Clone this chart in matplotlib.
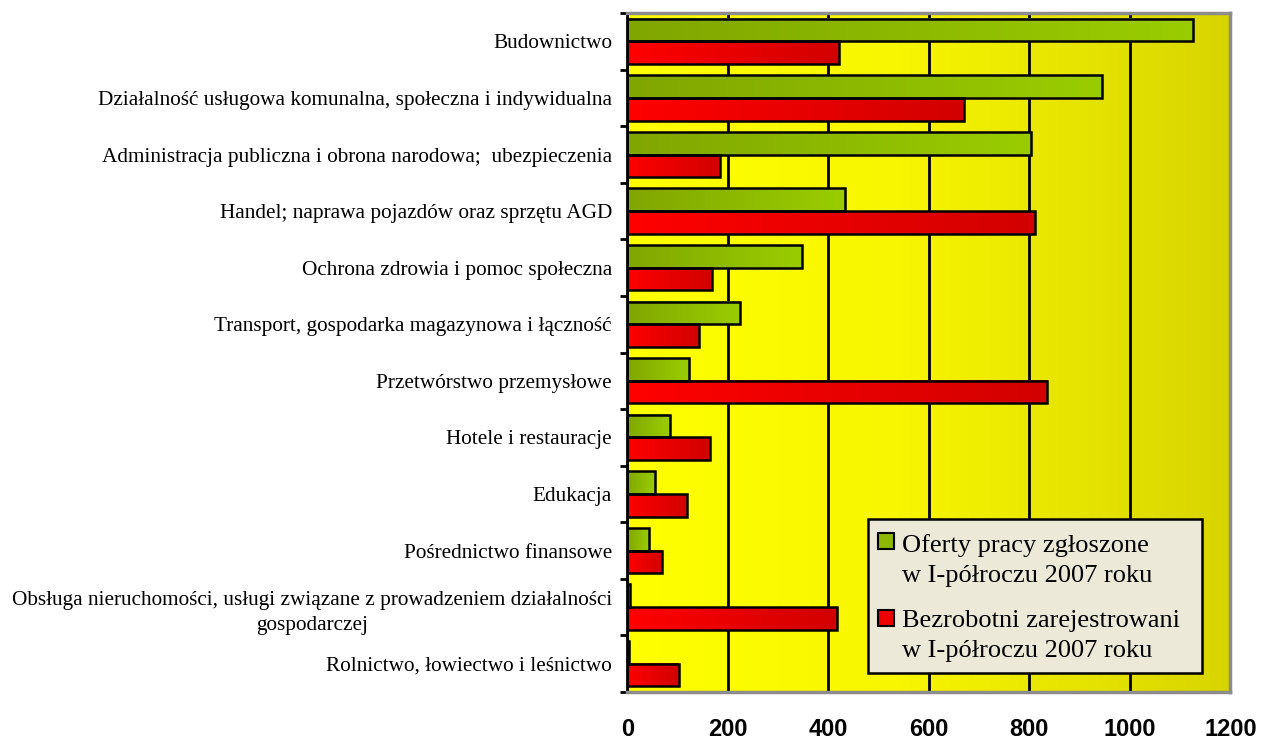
import matplotlib
matplotlib.use("Agg")
from matplotlib import pyplot as plt
from matplotlib.colors import LinearSegmentedColormap
from matplotlib.patches import Rectangle
import numpy as np

categories = [
    "Budownictwo",
    "Działalność usługowa komunalna, społeczna i indywidualna",
    "Administracja publiczna i obrona narodowa;  ubezpieczenia",
    "Handel; naprawa pojazdów oraz sprzętu AGD",
    "Ochrona zdrowia i pomoc społeczna",
    "Transport, gospodarka magazynowa i łączność",
    "Przetwórstwo przemysłowe",
    "Hotele i restauracje",
    "Edukacja",
    "Pośrednictwo finansowe",
    "Obsługa nieruchomości, usługi związane z prowadzeniem działalności\ngospodarczej",
    "Rolnictwo, łowiectwo i leśnictwo",
]
oferty = [1125, 944, 804, 433, 347, 224, 122, 85, 55, 44, 6, 3]
bezrobotni = [421, 669, 185, 811, 169, 143, 836, 164, 119, 70, 418, 103]
xticks = [0, 200, 400, 600, 800, 1000, 1200]
legend_labels = [["Oferty pracy zgłoszone", "w I-półroczu 2007 roku"],
                 ["Bezrobotni zarejestrowani", "w I-półroczu 2007 roku"]]

serif = "Liberation Serif"
sans = "Liberation Sans"

fig = plt.figure(figsize=(12.62, 7.42), dpi=100)
ax = fig.add_axes([0.497, 0.0674, 0.478, 0.915])

# background gradient
bg = LinearSegmentedColormap.from_list(
    "bg", [(0, "#ffff00"), (0.45, "#f8f600"), (0.75, "#e6e400"), (1, "#d8d400")])
ax.imshow(np.linspace(0, 1, 256).reshape(1, -1), cmap=bg, aspect="auto",
          extent=[0, 1, 0, 1], transform=ax.transAxes, zorder=-2)

green = LinearSegmentedColormap.from_list("g", ["#80a600", "#9acd00"])
red = LinearSegmentedColormap.from_list("r", ["#ff0000", "#d20000"])
grad = np.linspace(0, 1, 256).reshape(1, -1)

y = np.arange(len(categories))
h = 0.4
for vals, off, cmap in [(oferty, -h / 2, green), (bezrobotni, h / 2, red)]:
    bars = ax.barh(y + off, vals, height=h, facecolor="none",
                   edgecolor="black", linewidth=1.8, zorder=3)
    for b in bars:
        x0, y0 = b.get_x(), b.get_y()
        w, hh = b.get_width(), b.get_height()
        ax.imshow(grad, cmap=cmap, aspect="auto",
                  extent=[x0, x0 + w, y0 + hh, y0], zorder=2)

ax.set_xlim(0, 1200)
ax.set_ylim(len(categories) - 0.5, -0.5)

ax.set_axisbelow(True)
ax.xaxis.grid(True, color="black", linewidth=2)
ax.set_xticks(xticks)
ax.set_xticklabels([str(t) for t in xticks], fontfamily=sans,
                   fontweight="bold", fontsize=17)
ax.tick_params(axis="x", length=0, pad=19)

ax.set_yticks(y)
ax.set_yticklabels(categories, fontfamily=serif, fontsize=15.3,
                   multialignment="center", linespacing=1.45)
ax.tick_params(axis="y", length=0, pad=11)
ax.set_yticks(np.arange(len(categories) + 1) - 0.5, minor=True)
ax.tick_params(axis="y", which="minor", length=5, width=2, direction="out")

ax.spines["left"].set_color("black")
ax.spines["left"].set_linewidth(2)
for s in ["top", "right", "bottom"]:
    ax.spines[s].set_color("#8c8c8c")
    ax.spines[s].set_linewidth(2.5)

# legend drawn by hand
def px(x, yy):
    return ((x - 627) / 603, (692 - yy) / 679)

lx0, ly0 = px(868, 673)
lx1, ly1 = px(1202, 519)
ax.add_patch(Rectangle((lx0, ly0), lx1 - lx0, ly1 - ly0, transform=ax.transAxes,
                       facecolor="#ece9d8", edgecolor="black", linewidth=1.8,
                       zorder=5, clip_on=False))
for lines, col, top, base in [(legend_labels[0], "#8fb800", 533, 552),
                              (legend_labels[1], "#ee0000", 610, 627)]:
    hx, hy = px(878, top + 16)
    ax.add_patch(Rectangle((hx, hy), 16 / 603, 16 / 679, transform=ax.transAxes,
                           facecolor=col, edgecolor="black", linewidth=1.5,
                           zorder=6, clip_on=False))
    for k, line in enumerate(lines):
        tx, ty = px(902, base + 30 * k)
        ax.text(tx, ty, line, transform=ax.transAxes, ha="left", va="baseline",
                fontfamily=serif, fontsize=19, zorder=7)

fig.savefig("out.png", dpi=100)
